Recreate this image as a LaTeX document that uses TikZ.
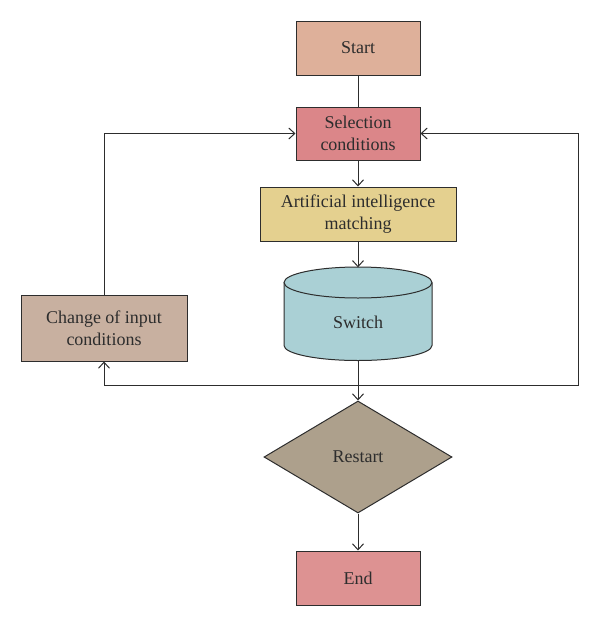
\documentclass[tikz,border=0pt]{standalone}
\usepackage{fontspec}
\setmainfont{Liberation Serif}
\usetikzlibrary{arrows.meta,shapes.geometric}
\definecolor{cStart}{RGB}{222,176,154}
\definecolor{cSel}{RGB}{219,134,137}
\definecolor{cAI}{RGB}{228,208,143}
\definecolor{cSw}{RGB}{170,208,213}
\definecolor{cChg}{RGB}{200,176,160}
\definecolor{cRes}{RGB}{173,160,140}
\definecolor{cEnd}{RGB}{221,146,146}
\definecolor{ink}{RGB}{45,45,45}
\tikzset{
  box/.style={draw=ink, line width=1pt, rectangle, align=center, inner sep=0pt,
    text=ink, font=\fontsize{18}{22.5}\selectfont},
  arr/.style={draw=ink, line width=1pt, -{Straight Barb[length=6pt,width=11pt]}},
  ln/.style={draw=ink, line width=1pt},
}
\begin{document}
\begin{tikzpicture}[x=1pt,y=1pt]
\useasboundingbox (0,0) rectangle (600,-627);
\node[box, fill=cStart, minimum width=124, minimum height=54] (start) at (358,-48) {Start};
\node[box, fill=cSel, minimum width=124, minimum height=53] (sel) at (358,-133.5) {Selection\\conditions};
\node[box, fill=cAI, minimum width=196, minimum height=54] (ai) at (358,-214) {Artificial intelligence\\matching};
\node[box, fill=cChg, minimum width=166, minimum height=66] (chg) at (104,-328) {Change of input\\conditions};
% cylinder
\node[draw=none, minimum width=148, minimum height=93, inner sep=0pt] (sw) at (358,-314) {};
\fill[cSw] (284,-282.5) -- (284,-345.5) arc[start angle=180, end angle=360, x radius=74, y radius=15] -- (432,-282.5) arc[start angle=0, end angle=180, x radius=74, y radius=15.5] -- cycle;
\draw[ln] (284,-282.5) -- (284,-345.5) arc[start angle=180, end angle=360, x radius=74, y radius=15] -- (432,-282.5);
\draw[ln] (358,-282.5) ellipse[x radius=74, y radius=15.5];
\node[text=ink, font=\fontsize{18}{22.5}\selectfont] (swt) at (358,-322) {Switch};
\node[box, diamond, fill=cRes, minimum width=188, minimum height=112, aspect=1.68] (res) at (358,-457) {Restart};
\node[box, fill=cEnd, minimum width=124, minimum height=54] (end) at (358,-578) {End};
\coordinate (j) at (358,-385);
\coordinate (rc) at (578,-385);
\draw[ln] (start.south) -- (sel.north);
\draw[arr] (sel.south) -- (ai.north);
\draw[arr] (ai.south) -- (sw.north);
\draw[arr] (sw.south) -- (res.north);
\draw[arr] (j) -- (rc) |- (sel.east);
\draw[arr] (j) -| (chg.south);
\draw[arr] (chg.north) |- (sel.west);
\draw[arr] (res.south) -- (end.north);
\end{tikzpicture}
\end{document}
